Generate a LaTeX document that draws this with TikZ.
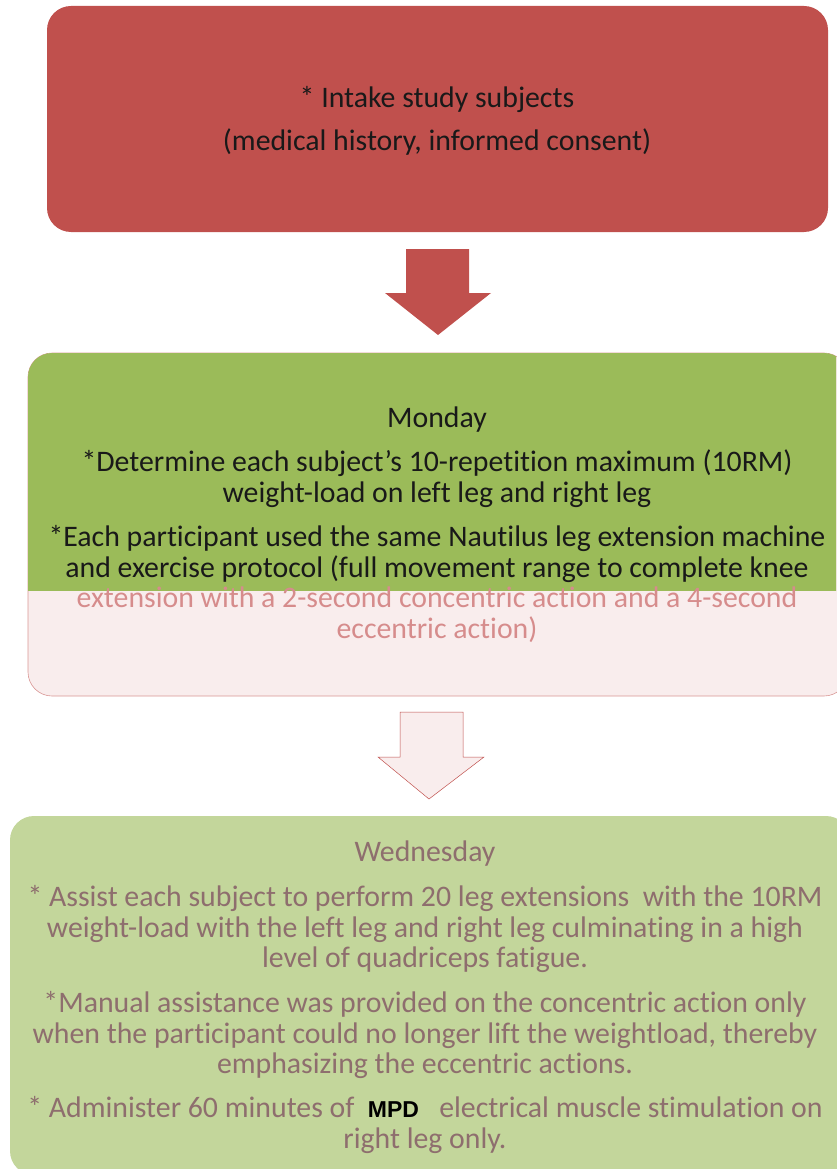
\documentclass[tikz,border=0pt]{standalone}
\usepackage{fontspec}
\setmainfont{Carlito}[Ligatures={TeX,NoCommon}]
\newfontfamily\arialfont{Liberation Sans}
\definecolor{IntakeRed}{HTML}{C0504D}
\definecolor{MondayGreen}{HTML}{9BBB59}
\definecolor{WedGreen}{HTML}{C3D69B}
\definecolor{PinkLight}{HTML}{F9EDED}
\definecolor{PinkEdge}{HTML}{D99694}
\definecolor{FadedPink}{HTML}{D68C8C}
\definecolor{GhostText}{HTML}{8E6E6E}

\begin{document}
\begin{tikzpicture}[x=1pt, y=-1pt, line width=0.6pt,
        every node/.append style={align=center, inner sep=0pt, font=\fontsize{29.8}{30.7}\selectfont}]
      \tikzstyle{block} = [rounded corners=24pt]
      \tikzstyle{dark} = [text=black!90]
      \tikzstyle{faded} = [text=FadedPink]
      \tikzstyle{ghost} = [text=GhostText]
      \useasboundingbox (0,0) rectangle (836,1169);

      \fill[block, IntakeRed] (47,6) rectangle (828,232);
      \fill[IntakeRed] (406,249) -- (469,249) -- (469,293) -- (491,293) -- (438,335)
        -- (385,293) -- (406,293) -- cycle;

      \filldraw[block, fill=PinkLight, draw=PinkEdge] (28,353) rectangle (848,696);
      \begin{scope}
        \clip (0,340) rectangle (836,590);
        \fill[block, MondayGreen] (28,353) rectangle (848,696);
      \end{scope}
      \filldraw[fill=PinkLight, draw=IntakeRed, line width=0.5pt] (400,712) -- (463,712)
        -- (463,757) -- (484,757) -- (429,799) -- (378,757) -- (400,757) -- cycle;

      \fill[block, WedGreen] (10,816) rectangle (850,1175);

      \node (intake) [dark] at (437,99) {* Intake study subjects};
      \node (history) [dark] at (437,142) {(medical history, informed consent)};

      \node (monday) [dark] at (437,420) {Monday};
      \node (tenrm) [dark] at (437,479) {*Determine each subject's 10-repetition maximum (10RM)\\
        weight-load on left leg and right leg};
      \node (machine) [dark] at (437,554) {*Each participant used the same Nautilus leg extension machine\\
        and exercise protocol (full movement range to complete knee};
      \node (tempo) [faded] at (437,615) {extension with a 2-second concentric action and a 4-second\\
        eccentric action)};

      \node (wednesday) [ghost] at (425,854) {Wednesday};
      \node (assist) [ghost] at (425,929) {* Assist each subject to perform 20 leg extensions \ with the 10RM\\
        weight-load with the left leg and right leg culminating in a high\\
        level of quadriceps fatigue.};
      \node (manual) [ghost] at (425,1035) {*Manual assistance was provided on the concentric action only\\
        when the participant could no longer lift the weightload, thereby\\
        emphasizing the eccentric actions.};
      \node (stim) [ghost] at (425,1125) {* Administer 60 minutes of \ {\arialfont\bfseries\fontsize{23}{30.7}\selectfont\color{black} MPD} \ \ electrical muscle stimulation on\\
        right leg only.};
    \end{tikzpicture}
\end{document}
